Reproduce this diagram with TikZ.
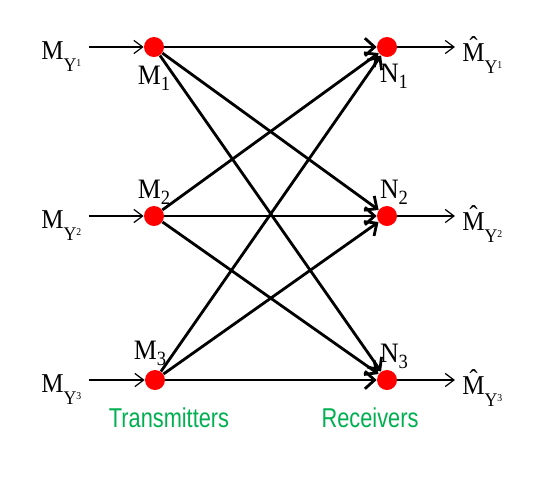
\documentclass[tikz,border=0pt]{standalone}
\usepackage{fontspec}
\setmainfont{Liberation Serif}[FakeStretch=0.92]
\newfontfamily\sideSans{Liberation Sans}[FakeStretch=0.8]
\usetikzlibrary{arrows.meta,positioning}
\definecolor{dotred}{RGB}{255,0,0}
\definecolor{sidegreen}{RGB}{0,176,80}
% message labels M_{Y^k} and their estimates
\newcommand{\msgin}[1]{\fontsize{15.5}{18}\selectfont M\raisebox{-7pt}{\fontsize{11}{13}\selectfont Y\raisebox{3pt}{\fontsize{6}{7}\selectfont #1}}}
\newcommand{\msgout}[1]{\fontsize{15.5}{18}\selectfont \^{M}\raisebox{-7pt}{\fontsize{11}{13}\selectfont Y\raisebox{3pt}{\fontsize{6}{7}\selectfont #1}}}
\newcommand{\idx}[2]{\fontsize{16}{19}\selectfont #1\raisebox{-3.4pt}{\fontsize{11.5}{13}\selectfont #2}}

\begin{document}
\begin{tikzpicture}[x=0.02cm, y=-0.02cm,
  dot/.style={circle, fill=dotred, minimum size=0.4cm, inner sep=0pt},
  link/.style={-{Straight Barb[length=5.5pt,width=10pt]}, line width=1.6pt},
  feed/.style={-{Straight Barb[length=5pt,width=7.5pt]}, line width=0.7pt},
  side/.style={font=\sideSans\fontsize{15.5}{18}\selectfont, text=sidegreen, inner sep=0pt}]
  \useasboundingbox (0,0) rectangle (554,485);
  % transmitters and receivers
  \node[dot] (m1) at (154,47) {};
  \node[dot] (m2) at (154,216) {};
  \node[dot] (m3) at (155,380) {};
  \node[dot] (n1) at (387,47) {};
  \node[dot] (n2) at (387,216) {};
  \node[dot] (n3) at (387,380) {};
  \node[inner sep=0pt, below=0.16cm of m1] {\idx{M}{1}};
  \node[inner sep=0pt, above=0.02cm of m2] {\idx{M}{2}};
  \node[inner sep=0pt, above=0.08cm of m3, xshift=-0.1cm] {\idx{M}{3}};
  \node[inner sep=0pt, below=0.12cm of n1, xshift=0.14cm] {\idx{N}{1}};
  \node[inner sep=0pt, above=0.02cm of n2, xshift=0.14cm] {\idx{N}{2}};
  \node[inner sep=0pt, above=0.02cm of n3, xshift=0.14cm] {\idx{N}{3}};
  % messages in and out
  \node[anchor=base west, inner sep=0pt] (in1) at (41,59) {\msgin{1}};
  \node[anchor=base west, inner sep=0pt] (in2) at (41,228) {\msgin{2}};
  \node[anchor=base west, inner sep=0pt] (in3) at (41,392) {\msgin{3}};
  \node[anchor=base west, inner sep=0pt] (out1) at (462,61) {\msgout{1}};
  \node[anchor=base west, inner sep=0pt] (out2) at (462,230) {\msgout{2}};
  \node[anchor=base west, inner sep=0pt] (out3) at (462,394) {\msgout{3}};
  \draw[feed, shorten <=4pt] (in1.east |- m1) -- (m1);
  \draw[feed, shorten <=4pt] (in2.east |- m2) -- (m2);
  \draw[feed, shorten <=4pt] (in3.east |- m3) -- (m3);
  \draw[feed, shorten >=4pt] (n1) -- (out1.west |- n1);
  \draw[feed, shorten >=4pt] (n2) -- (out2.west |- n2);
  \draw[feed, shorten >=4pt] (n3) -- (out3.west |- n3);
  % every transmitter to every receiver
  \draw[link] (m1) -- (n1);
  \draw[link] (m1) -- (n2);
  \draw[link] (m1) -- (n3);
  \draw[link] (m2) -- (n1);
  \draw[link] (m2) -- (n2);
  \draw[link] (m2) -- (n3);
  \draw[link] (m3) -- (n1);
  \draw[link] (m3) -- (n2);
  \draw[link] (m3) -- (n3);
  \node[side, below=0.34cm of m3, xshift=0.28cm] (tx) {Transmitters};
  \node[side, below=0.34cm of n3, xshift=-0.34cm] (rx) {Receivers};
\end{tikzpicture}
\end{document}
